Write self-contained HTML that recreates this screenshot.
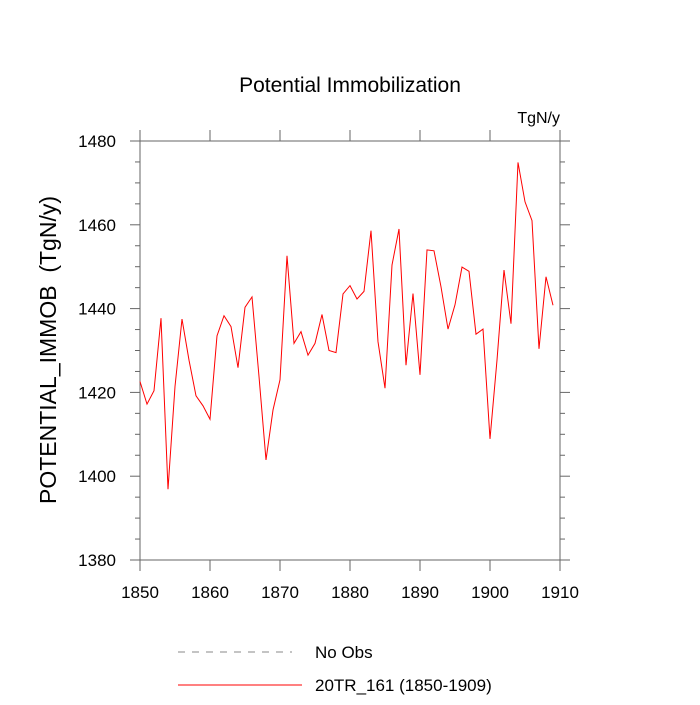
<!DOCTYPE html>
<html><head><meta charset="utf-8"><style>
body{margin:0;background:#fff;}
svg text{font-family:"Liberation Sans",sans-serif;fill:#000;}
</style></head><body>
<svg id="chart" width="700" height="700" xmlns="http://www.w3.org/2000/svg">
<text x="350" y="92" font-size="21" text-anchor="middle">Potential Immobilization</text>
<text x="560" y="123" font-size="16" text-anchor="end">TgN/y</text>
<text transform="translate(56,350) rotate(-90)" font-size="23" text-anchor="middle" xml:space="preserve">POTENTIAL_IMMOB  (TgN/y)</text>
<g id="axes"></g>
<path id="series" fill="none" stroke="#ff0000" stroke-width="1"/>
<line x1="178" y1="652" x2="292" y2="652" stroke="#888" stroke-dasharray="7,7"/>
<text x="315" y="658" font-size="17">No Obs</text>
<line x1="178" y1="685" x2="302" y2="685" stroke="#ff0000" stroke-width="1"/>
<text x="315" y="691" font-size="17">20TR_161 (1850-1909)</text>
</svg>
<script>
const years=[];for(let y=1850;y<=1909;y++)years.push(y);
const values=[1422.6,1417.2,1420.4,1437.7,1396.9,1421.4,1437.5,1427.7,1419.2,1416.8,1413.6,1433.5,1438.3,1435.7,1425.9,1440.3,1442.8,1423.8,1403.9,1415.8,1423,1452.6,1431.7,1434.5,1428.9,1431.7,1438.6,1430,1429.5,1443.5,1445.5,1442.3,1444.1,1458.6,1432.1,1421,1450.4,1459,1426.5,1443.6,1424.2,1454,1453.8,1445.2,1435.1,1440.9,1449.9,1448.9,1433.9,1435.1,1408.9,1427.7,1449.2,1436.4,1474.9,1465.5,1461,1430.4,1447.6,1440.8];
const xTicks=[1850,1860,1870,1880,1890,1900,1910];
const yTicks=[1380,1400,1420,1440,1460,1480];
const X0=140,X1=560,Y0=560,Y1=141;
const sx=v=>X0+(v-1850)/(1910-1850)*(X1-X0);
const sy=v=>Y0-(v-1380)/(1480-1380)*(Y0-Y1);
const NS="http://www.w3.org/2000/svg";
const g=document.getElementById('axes');
const AX='#666';
function mk(t,a){const e=document.createElementNS(NS,t);for(const k in a)e.setAttribute(k,a[k]);g.appendChild(e);return e;}
const frame=mk('rect',{x:X0,y:Y1,width:X1-X0,height:Y0-Y1,fill:'none',stroke:AX,'stroke-width':1});


xTicks.forEach(v=>{const x=sx(v);
 mk('line',{x1:x,y1:Y0,x2:x,y2:Y0+11,stroke:AX});mk('line',{x1:x,y1:Y1,x2:x,y2:Y1-11,stroke:AX});});
for(let v=1380;v<=1480;v+=5){const maj=v%20==0;const L=maj?10:5;const y=sy(v);
 mk('line',{x1:X0,y1:y,x2:X0-L,y2:y,stroke:AX});mk('line',{x1:X1,y1:y,x2:X1+L,y2:y,stroke:AX});}
xTicks.forEach(v=>{const t=mk('text',{x:sx(v),y:Y0+38,'font-size':17,'text-anchor':'middle'});t.textContent=v;
 
 });
yTicks.forEach(v=>{const t=mk('text',{x:X0-24,y:sy(v)+6,'font-size':17,'text-anchor':'end'});t.textContent=v;
 
 });
document.getElementById('series').setAttribute('d',values.map((v,i)=>(i?'L':'M')+sx(years[i]).toFixed(1)+' '+sy(v).toFixed(1)).join(' '));
</script>
</body></html>
